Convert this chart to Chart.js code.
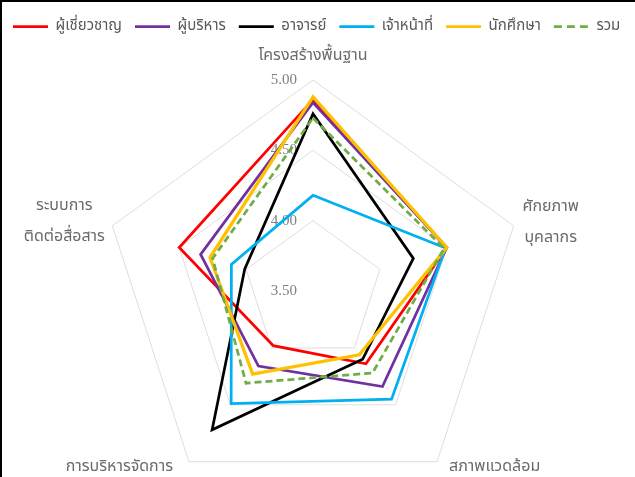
<!DOCTYPE html>
<html>
<head>
<meta charset="utf-8">
<script src="https://cdn.jsdelivr.net/npm/chart.js@4.4.1/dist/chart.umd.min.js"></script>
<style>
  html, body { margin: 0; padding: 0; background: #fff; }
  #wrap { position: relative; width: 635px; height: 477px; overflow: hidden; }
  #chart { position: absolute; left: 0; top: 0; }
  #frame { position: absolute; left: 0; top: 0; width: 635px; height: 477px; box-sizing: border-box;
           border-left: 2px solid #000; border-top: 2px solid #000; pointer-events: none; }
</style>
</head>
<body>
<div id="wrap">
  <canvas id="chart" width="635" height="502"></canvas>
  <div id="frame"></div>
</div>
<script>
const categories = [
  ['โครงสร้างพื้นฐาน'],
  ['ศักยภาพ', 'บุคลากร'],
  ['สภาพแวดล้อม'],
  ['การบริหารจัดการ'],
  ['ระบบการ', 'ติดต่อสื่อสาร']
];
const seriesNames = ['ผู้เชี่ยวชาญ', 'ผู้บริหาร', 'อาจารย์', 'เจ้าหน้าที่', 'นักศึกษา', 'รวม'];
const expertVals  = [4.86, 4.50, 4.14, 3.98, 4.50];
const adminVals   = [4.84, 4.50, 4.34, 4.16, 4.34];
const teacherVals = [4.76, 4.25, 4.10, 4.72, 4.01];
const staffVals   = [4.18, 4.49, 4.45, 4.49, 4.11];
const studentVals = [4.88, 4.50, 4.06, 4.23, 4.27];
const totalVals   = [4.73, 4.48, 4.22, 4.31, 4.25];
const tickValues = [3.5, 4.0, 4.5, 5.0];
const tickLabels = ['3.50', '4.00', '4.50', '5.00'];

const thaiFont = "'Noto Sans Thai', 'Noto Sans', sans-serif";

// where each category name sits relative to its outer vertex
const labelPlace = [
  { align: 'center', dx: 0,   dy: -23 },
  { align: 'center', dx: 37,  dy: -18 },
  { align: 'left',   dx: 12,  dy: 6 },
  { align: 'right',  dx: -16, dy: 6 },
  { align: 'center', dx: -48, dy: -19 }
];
const labelLineGap = 31;

// tick labels sit left of the vertical axis, under the lines
const tickLabelPlugin = {
  id: 'tickLabels',
  beforeDatasetsDraw(chart) {
    const s = chart.scales.r;
    const ctx = chart.ctx;
    ctx.save();
    ctx.font = "15px 'Liberation Serif'";
    ctx.fillStyle = '#7f7f7f';
    ctx.textAlign = 'right';
    ctx.textBaseline = 'middle';
    tickValues.forEach((v, i) => {
      const y = s.yCenter - s.getDistanceFromCenterForValue(v);
      ctx.fillText(tickLabels[i], s.xCenter - 16, y);
    });
    ctx.restore();
  }
};

const axisNamePlugin = {
  id: 'axisNames',
  afterDatasetsDraw(chart) {
    const s = chart.scales.r;
    const ctx = chart.ctx;
    ctx.save();
    ctx.font = "16px " + thaiFont;
    ctx.fillStyle = '#6b6b6b';
    ctx.textBaseline = 'middle';
    categories.forEach((lines, i) => {
      const p = s.getPointPosition(i, s.drawingArea);
      const pl = labelPlace[i];
      ctx.textAlign = pl.align;
      lines.forEach((t, k) => {
        ctx.fillText(t, p.x + pl.dx, p.y + pl.dy + k * labelLineGap);
      });
    });
    ctx.restore();
  }
};

const ctx = document.getElementById('chart').getContext('2d');
new Chart(ctx, {
  type: 'radar',
  data: {
    labels: categories,
    datasets: [
      { label: seriesNames[0], data: expertVals,  borderColor: '#ff0000', borderWidth: 2.75, order: 6 },
      { label: seriesNames[1], data: adminVals,   borderColor: '#7030a0', borderWidth: 2.75, order: 5 },
      { label: seriesNames[2], data: teacherVals, borderColor: '#000000', borderWidth: 2.75, order: 4 },
      { label: seriesNames[3], data: staffVals,   borderColor: '#00b0f0', borderWidth: 2.75, order: 3 },
      { label: seriesNames[4], data: studentVals, borderColor: '#ffc000', borderWidth: 3.25, order: 2 },
      { label: seriesNames[5], data: totalVals,   borderColor: '#70ad47', borderWidth: 2.75, borderDash: [7, 4], order: 1 }
    ]
  },
  options: {
    responsive: false,
    animation: false,
    elements: {
      line: { fill: false, tension: 0 },
      point: { radius: 0, hoverRadius: 0 }
    },
    layout: { padding: { top: 6 } },
    plugins: {
      tooltip: { enabled: false },
      legend: {
        position: 'top',
        align: 'start',
        labels: {
          usePointStyle: true,
          pointStyle: 'line',
          pointStyleWidth: 35,
          padding: 13,
          color: '#595959',
          font: { family: thaiFont, size: 15 },
          sort: (a, b) => a.datasetIndex - b.datasetIndex,
          generateLabels(chart) {
            const items = Chart.defaults.plugins.legend.labels.generateLabels(chart);
            items.forEach(it => {
              const ds = chart.data.datasets[it.datasetIndex];
              it.lineDash = ds.borderDash ? [8, 5] : [];
              it.lineWidth = 2.75;
            });
            return items;
          }
        }
      },
      // empty boxes used as spacers so the web sits where the original does
      title: {
        display: true, text: '', position: 'right',
        font: { size: 1, lineHeight: 1 }, padding: { top: 0, bottom: 7 }
      },
      subtitle: {
        display: true, text: '', position: 'top', weight: 500,
        font: { size: 1, lineHeight: 1 }, padding: { top: 0, bottom: 35 }
      }
    },
    scales: {
      r: {
        min: 3.5,
        max: 5,
        ticks: { stepSize: 0.5, display: false },
        grid: { color: '#dedede', lineWidth: 1 },
        angleLines: { display: false },
        pointLabels: { display: false }
      }
    }
  },
  plugins: [tickLabelPlugin, axisNamePlugin]
});
</script>
</body>
</html>
